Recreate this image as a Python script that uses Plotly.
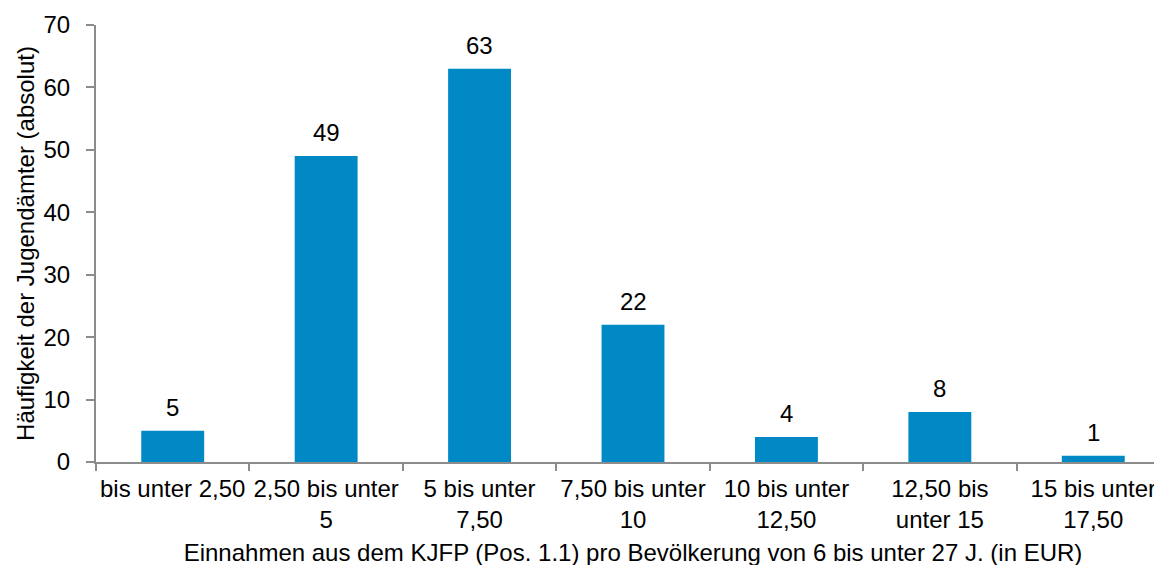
import plotly.graph_objects as go

categories = ["bis unter 2,50", "2,50 bis unter<br>5", "5 bis unter<br>7,50",
              "7,50 bis unter<br>10", "10 bis unter<br>12,50", "12,50 bis<br>unter 15",
              "15 bis unter<br>17,50"]
values = [5, 49, 63, 22, 4, 8, 1]
y_ticks = [0, 10, 20, 30, 40, 50, 60, 70]

FONT = "Liberation Sans, Arial, sans-serif"
BAR = "#0089C4"
AX = "#8C8C8C"
FS = 24

fig = go.Figure()
fig.add_trace(go.Bar(x=categories, y=values, marker=dict(color=BAR, line=dict(width=0)),
                     width=0.41, hoverinfo="skip"))

for c, v in zip(categories, values):
    fig.add_annotation(x=c, y=v, text=str(v), showarrow=False, yanchor="bottom",
                       yshift=8, font=dict(family=FONT, size=FS, color="black"))

fig.update_layout(
    width=1162, height=565,
    margin=dict(l=88, r=0, t=17, b=111),
    paper_bgcolor="white", plot_bgcolor="white",
    showlegend=False,
    font=dict(family=FONT, size=FS, color="black"),
    xaxis=dict(
        range=[-0.5, 6.5],
        showline=True, linecolor=AX, linewidth=2,
        ticks="outside", tickson="boundaries", ticklen=7, tickcolor=AX, tickwidth=2,
        showgrid=False, zeroline=False, tickangle=0,
        tickfont=dict(family=FONT, size=FS, color="black"),
        ticklabelstandoff=4,
        title=dict(text="Einnahmen aus dem KJFP (Pos. 1.1) pro Bevölkerung von 6 bis unter 27 J. (in EUR)",
                   font=dict(family=FONT, size=FS, color="black"), standoff=12),
        automargin=False,
    ),
    yaxis=dict(
        range=[0, 70], tickvals=y_ticks,
        showline=True, linecolor=AX, linewidth=2,
        ticks="outside", ticklen=8, tickcolor=AX, tickwidth=2,
        showgrid=False, zeroline=False,
        tickfont=dict(family=FONT, size=FS, color="black"),
        ticklabelstandoff=11,
        title=dict(text="Häufigkeit der Jugendämter (absolut)",
                   font=dict(family=FONT, size=FS, color="black"), standoff=2),
        automargin=False,
    ),
    bargap=0.59,
)

fig.write_html("out.html")
